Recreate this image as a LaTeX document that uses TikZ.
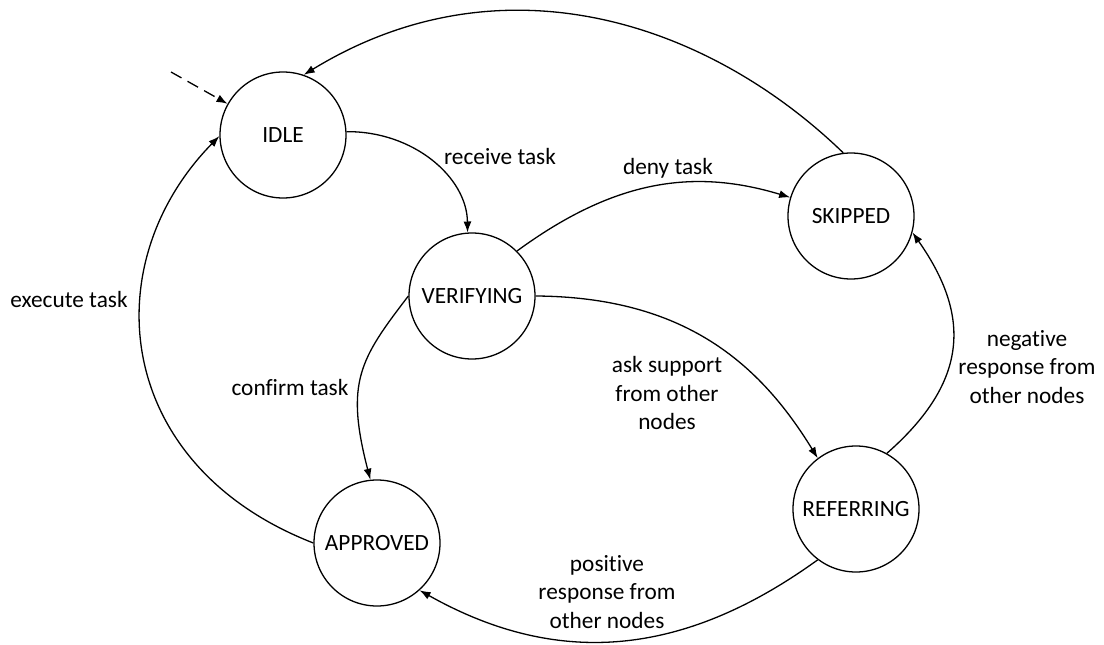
\documentclass[tikz,border=0pt]{standalone}
\usepackage{fontspec}
\setmainfont{Carlito}[Ligatures=NoCommon]
\usetikzlibrary{arrows.meta}
\begin{document}
\begin{tikzpicture}[x=1pt,y=-1pt,
  state/.style={circle,draw,line width=1.3pt,minimum size=126pt,inner sep=0pt,font=\fontsize{23.3}{28.5}\selectfont},
  lbl/.style={align=center,font=\fontsize{23.3}{28.5}\selectfont,inner sep=0pt},
  edge/.style={line width=1.3pt,-{Latex[length=11pt,width=8pt]}},
  initedge/.style={edge,dash pattern=on 12pt off 7pt}]
\useasboundingbox (0,0) rectangle (1104,645);
\node[state] (idle) at (283,135) {IDLE};
\node[state] (verifying) at (472,296) {VERIFYING};
\node[state] (skipped) at (851,216) {SKIPPED};
\node[state] (approved) at (377,543) {APPROVED};
\node[state] (referring) at (856,509) {REFERRING};
\coordinate (init) at (171,72);

\draw[initedge] (init) -- (idle);
\draw[edge] (skipped.97.5) .. controls (707,21) and (501,-46) .. (idle.71.6);
\draw[edge] (idle.3.6) .. controls (413,131) and (467,177) .. (verifying.94.5);
\draw[edge] (verifying.45) .. controls (614,180) and (693,168) .. (skipped.163);
\draw[edge] (verifying.0) .. controls (685,297) and (760,364) .. (referring.127.4);
\draw[edge] (verifying.180) .. controls (360,359) and (345,382) .. (approved.96);
\draw[edge] (approved.180) .. controls (113.6,465.2) and (93.7,264.3) .. (idle.181);
\draw[edge] (referring.61) .. controls (969.8,380.6) and (970.3,314.9) .. (skipped.-15.3);
\draw[edge] (referring.233.7) .. controls (686.6,654.6) and (560.8,669.8) .. (approved.-48.6);

\node[lbl] (lexec) at (69,299) {execute task};
\node[lbl] (lrecv) at (500,156) {receive task};
\node[lbl] (ldeny) at (668,168) {deny task};
\node[lbl] (lconf) at (290,387) {confirm task};
\node[lbl] (lask) at (667,393) {ask support\\from other\\nodes};
\node[lbl] (lneg) at (1027,367) {negative\\response from\\other nodes};
\node[lbl] (lpos) at (607,592) {positive\\response from\\other nodes};
\end{tikzpicture}
\end{document}
